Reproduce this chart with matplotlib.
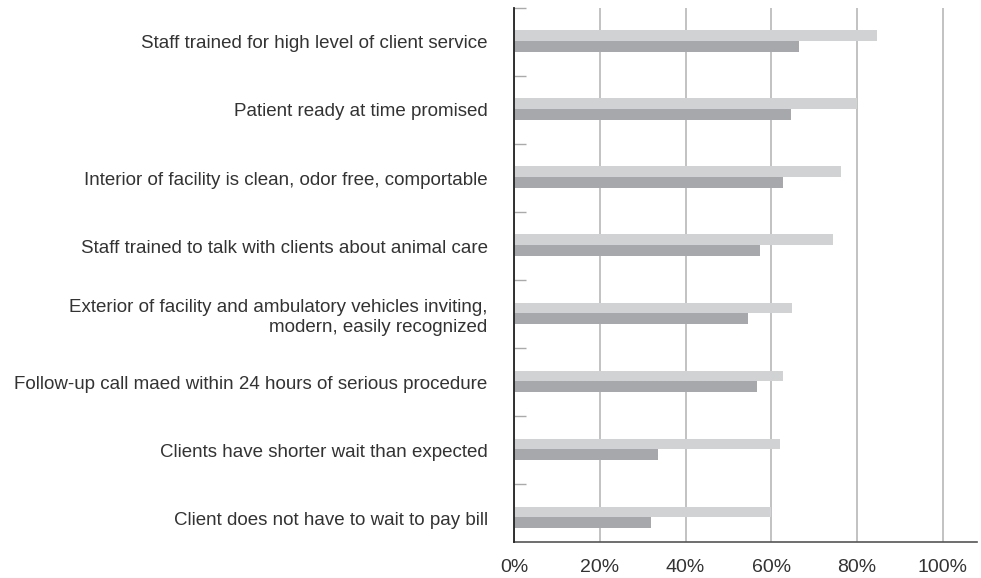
import matplotlib.pyplot as plt
import numpy as np

plt.rcParams['font.family'] = ['Liberation Sans', 'DejaVu Sans']

categories = ['Staff trained for high level of client service',
              'Patient ready at time promised',
              'Interior of facility is clean, odor free, comportable',
              'Staff trained to talk with clients about animal care',
              'Exterior of facility and ambulatory vehicles inviting,\nmodern, easily recognized',
              'Follow-up call maed within 24 hours of serious procedure',
              'Clients have shorter wait than expected',
              'Client does not have to wait to pay bill']
series_light = [84.6, 80.0, 76.3, 74.3, 64.8, 62.8, 62.0, 60.0]
series_dark = [66.5, 64.6, 62.8, 57.3, 54.5, 56.6, 33.6, 31.9]
xticks = [0, 20, 40, 60, 80, 100]
xtick_labels = ['0%', '20%', '40%', '60%', '80%', '100%']

fig = plt.figure(figsize=(9.81, 5.78), dpi=100)
ax = fig.add_axes([0.524, 0.0623, 0.472, 0.924])

y = np.arange(len(categories))
ax.barh(y - 0.09, series_light, height=0.16, color='#d1d2d4', zorder=2)
ax.barh(y + 0.07, series_dark, height=0.16, color='#a7a8ab', zorder=3)

ax.set_xlim(0, 108)
ax.set_ylim(7.35, -0.5)
ax.set_xticks(xticks)
ax.set_xticklabels(xtick_labels, fontsize=14, color='#333333')
ax.tick_params(axis='x', length=0, pad=12)

ax.set_yticks(y)
ax.set_yticklabels(categories, fontsize=13.5, color='#333333', linespacing=1.2)
ax.tick_params(axis='y', which='major', length=0, pad=19)
ax.set_yticks(np.arange(len(categories)) - 0.5, minor=True)
ax.tick_params(axis='y', which='minor', direction='in', length=8.5,
               width=1, color='#aaaaaa')

ax.grid(axis='x', color='#b8b8b8', linewidth=1.2, zorder=1)
ax.set_axisbelow(True)

for s in ['top', 'right']:
    ax.spines[s].set_visible(False)
ax.spines['left'].set_color('#222222')
ax.spines['left'].set_linewidth(1.3)
ax.spines['left'].set_zorder(5)
ax.spines['bottom'].set_color('#555555')
ax.spines['bottom'].set_linewidth(1.2)

plt.savefig('out.png', dpi=100)
